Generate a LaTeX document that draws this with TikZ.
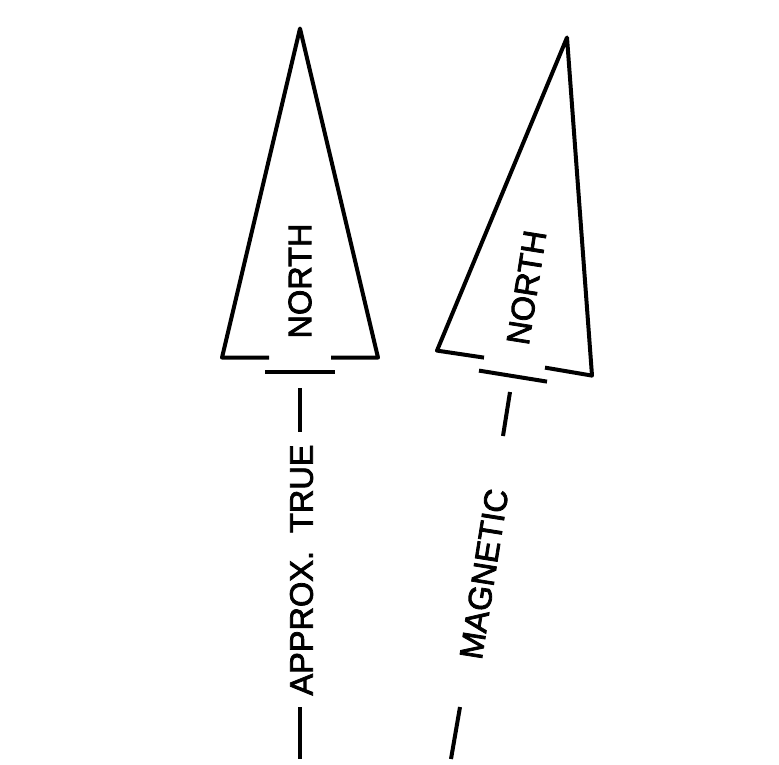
\documentclass[tikz,border=0pt]{standalone}
\usepackage{fontspec}
\setmainfont{Liberation Sans}[FakeBold=2.4]
\tikzset{
  ln/.style={line width=4pt,line join=round,black},
  lbl/.style={font=\fontsize{32.5}{33}\selectfont,inner sep=0pt,text=black,anchor=center},
}
\begin{document}
\begin{tikzpicture}[x=1pt,y=-1pt]
\useasboundingbox (0,0) rectangle (779,764);
% left pointer (approx. true north)
\coordinate (la) at (269,357.6);
\coordinate (lb) at (222,357.6);
\coordinate (lc) at (300,28.5);
\coordinate (ld) at (378,357.6);
\coordinate (le) at (331,357.6);
\draw[ln] (la) -- (lb) -- (lc) -- (ld) -- (le);
\coordinate (lf) at (265,371.6);
\coordinate (lg) at (335,371.6);
\draw[ln] (lf) -- (lg);
\coordinate (lh) at (300,388);
\coordinate (li) at (300,432);
\draw[ln] (lh) -- (li);
\coordinate (lj) at (300,707);
\coordinate (lk) at (300,759);
\draw[ln] (lj) -- (lk);
\node[lbl,rotate=90] (tn) at (300,281) {NORTH};
\node[lbl,rotate=90] (tt) at (301.5,570) {APPROX.\ \ TRUE};
% right pointer (magnetic north)
\coordinate (ra) at (484,357.6);
\coordinate (rb) at (437,350.6);
\coordinate (rc) at (567,37.5);
\coordinate (rd) at (592,375.6);
\coordinate (re) at (545,367.6);
\draw[ln] (ra) -- (rb) -- (rc) -- (rd) -- (re);
\coordinate (rf) at (479,370.6);
\coordinate (rg) at (547,381.6);
\draw[ln] (rf) -- (rg);
\coordinate (rh) at (510,392);
\coordinate (ri) at (503,436);
\draw[ln] (rh) -- (ri);
\coordinate (rj) at (460,707);
\coordinate (rk) at (451,759);
\draw[ln] (rj) -- (rk);
\node[lbl,rotate=81] (mn) at (526.5,287.5) {NORTH};
\node[lbl,rotate=81] (mm) at (484,574) {MAGNETIC};
\end{tikzpicture}
\end{document}
